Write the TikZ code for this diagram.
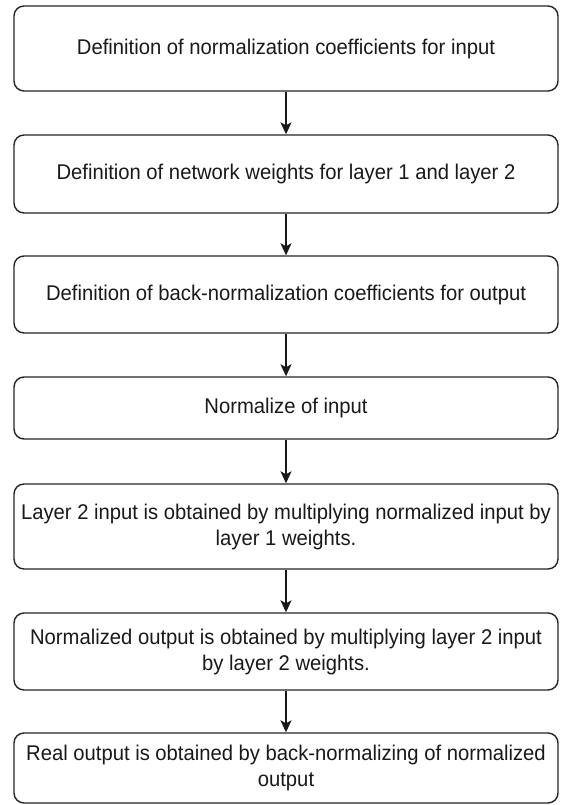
\documentclass[tikz,border=0pt]{standalone}
\usepackage{fontspec}
\setmainfont{Liberation Sans}[FakeStretch=0.95]
\usetikzlibrary{arrows.meta}
\begin{document}
\begin{tikzpicture}[x=1pt,y=-1pt,
  flowbox/.style={draw=black!85,line width=1.4pt,rounded corners=10pt,fill=white,
    minimum width=544pt,inner sep=0pt,align=center,font=\fontsize{21.3}{26}\selectfont,text=black!90},
  flowarrow/.style={draw=black!90,line width=1.4pt,-{Stealth[length=12pt,width=11pt,inset=3pt]}}]
\useasboundingbox (0,0) rectangle (560,805);
\node[flowbox,minimum height=85pt] (b1) at (286,48.5) {Definition of normalization coefficients for input};
\node[flowbox,minimum height=78pt] (b2) at (286,174) {Definition of network weights for layer 1 and layer 2};
\node[flowbox,minimum height=77pt] (b3) at (286,294.5) {Definition of back-normalization coefficients for output};
\node[flowbox,minimum height=62pt] (b4) at (286,408) {Normalize of input};
\node[flowbox,minimum height=85pt] (b5) at (286,526.5) {Layer 2 input is obtained by multiplying normalized input by\\layer 1 weights.};
\node[flowbox,minimum height=77pt] (b6) at (286,651.5) {Normalized output is obtained by multiplying layer 2 input\\by layer 2 weights.};
\node[flowbox,minimum height=70pt] (b7) at (286,768) {Real output is obtained by back-normalizing of normalized\\output};
\draw[flowarrow] (b1) -- (b2);
\draw[flowarrow] (b2) -- (b3);
\draw[flowarrow] (b3) -- (b4);
\draw[flowarrow] (b4) -- (b5);
\draw[flowarrow] (b5) -- (b6);
\draw[flowarrow] (b6) -- (b7);
\end{tikzpicture}
\end{document}
